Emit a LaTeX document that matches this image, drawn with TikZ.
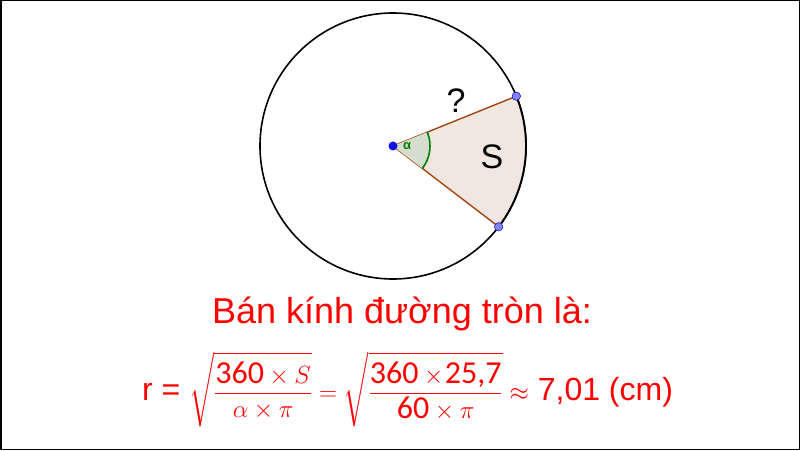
\documentclass[tikz,border=0pt]{standalone}
\usepackage{fontspec}
\usepackage{amsmath}
\setmainfont{Liberation Sans}
\newfontfamily\calib{Carlito}
\newcommand{\rootstrut}{\rule[-24pt]{0pt}{66pt}}
\definecolor{redtxt}{RGB}{255,0,0}
\definecolor{sectfill}{RGB}{242,230,224}
\definecolor{sectline}{RGB}{160,70,20}
\definecolor{anggreen}{RGB}{0,128,0}
\definecolor{angfill}{RGB}{214,220,206}
\definecolor{ptblue}{RGB}{20,20,230}
\definecolor{ptlight}{RGB}{130,130,255}
\begin{document}
\begin{tikzpicture}[x=1pt,y=1pt,
  ptstyle/.style={circle,inner sep=0pt,minimum size=8.5pt,draw=ptblue!70!black,line width=0.5pt,fill=ptlight},
  redlabel/.style={text=redtxt,inner sep=0pt}]
\useasboundingbox (0,0) rectangle (800,450);
\draw[line width=1.5pt] (0.75,0.75) rectangle (799.25,449.25);
\coordinate (O) at (393,304);
% circle
\draw[line width=1.6pt] (O) circle[radius=133pt];
% sector
\fill[sectfill] (O) -- ++(22:133pt) arc[start angle=22,end angle=-37.4,radius=133pt] -- cycle;
\draw[line width=1.9pt] (O) ++(22:133pt) arc[start angle=22,end angle=-37.4,radius=133pt];
\path (O) ++(22:133pt) coordinate (A);
\path (O) ++(-37.4:133pt) coordinate (B);
\draw[sectline,line width=1.4pt] (O) -- (A);
\draw[sectline,line width=1.4pt] (O) -- (B);
% angle
\fill[angfill] (O) -- ++(22:37pt) arc[start angle=22,end angle=-37.4,radius=37pt] -- cycle;
\draw[anggreen,line width=1.6pt] (O) ++(22:37pt) arc[start angle=22,end angle=-37.4,radius=37pt];
\node[text=anggreen,font=\bfseries\fontsize{13}{13}\selectfont,inner sep=0pt] (alpha) at (407,304) {α};
% points
\node[circle,inner sep=0pt,minimum size=9pt,fill=ptblue] (Op) at (O) {};
\node[ptstyle] (Ap) at (A) {};
\node[ptstyle] (Bp) at (B) {};
% labels
\node[font=\fontsize{34}{34}\selectfont,inner sep=0pt] (q) at (456,349) {?};
\node[font=\fontsize{34}{34}\selectfont,inner sep=0pt] (S) at (492,293) {S};
\node[redlabel,font=\fontsize{36}{36}\selectfont,anchor=base] (title) at (402,127) {Bán kính đường tròn là:};
\node[redlabel,font=\fontsize{32}{32}\selectfont,anchor=base west] (formula) at (142,50)
  {r = $\sqrt{\rootstrut\dfrac{\text{\calib 360} \times S}{\alpha\times\pi}} = \sqrt{\rootstrut\dfrac{\text{\calib 360} \times\!\text{\calib 25,7}}{\text{\calib 60}\times\pi}}\approx$ 7,01 (cm)};
\end{tikzpicture}
\end{document}
